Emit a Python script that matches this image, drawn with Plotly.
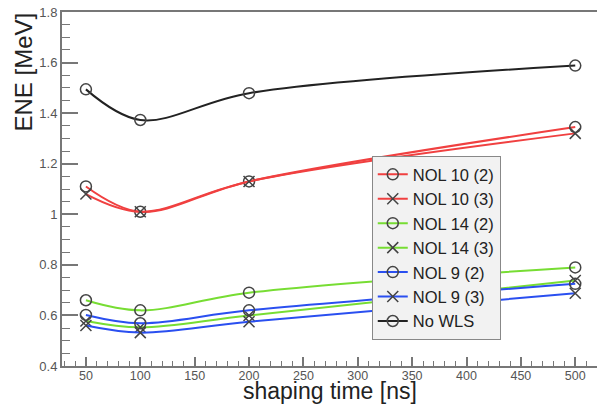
import plotly.graph_objects as go

shaping_time = [50, 100, 200, 500]

nol10_2 = [1.11, 1.01, 1.13, 1.345]
nol10_3 = [1.08, 1.01, 1.13, 1.32]
nol14_2 = [0.66, 0.62, 0.69, 0.79]
nol14_3 = [0.578, 0.553, 0.60, 0.738]
nol9_2 = [0.602, 0.569, 0.62, 0.725]
nol9_3 = [0.56, 0.532, 0.575, 0.688]
no_wls = [1.494, 1.373, 1.479, 1.588]

series_names = ["NOL 10 (2)", "NOL 10 (3)", "NOL 14 (2)", "NOL 14 (3)",
                "NOL 9 (2)", "NOL 9 (3)", "No WLS"]
series_values = [nol10_2, nol10_3, nol14_2, nol14_3, nol9_2, nol9_3, no_wls]
line_colors = ["#f04040", "#f04040", "#77dd33", "#77dd33",
               "#2a4ff0", "#2a4ff0", "#222222"]
symbols = ["circle-open", "x-thin-open", "circle-open", "x-thin-open",
           "circle-open", "x-thin-open", "circle-open"]

fig = go.Figure()
for name, vals, col, sym in zip(series_names, series_values, line_colors, symbols):
    fig.add_trace(go.Scatter(
        x=shaping_time, y=vals, name=name, mode="lines+markers",
        line=dict(color=col, width=2, shape="spline", smoothing=1.0),
        marker=dict(symbol=sym, size=11, color="#444444",
                    line=dict(color="#444444", width=1.5)),
    ))

axis_col = "#777777"
font_family = "Liberation Sans, Arial, sans-serif"

fig.update_layout(
    width=597, height=405,
    margin=dict(l=62, r=0, t=12, b=39),
    paper_bgcolor="white", plot_bgcolor="white",
    font=dict(family=font_family, color="#333333"),
    showlegend=True,
    legend=dict(
        x=0.579, y=0.593, xanchor="left", yanchor="top",
        bgcolor="#f2f2f2", bordercolor="#888888", borderwidth=1,
        font=dict(size=16.5, color="#222222", family=font_family),
        tracegroupgap=0, itemwidth=30,
    ),
    xaxis=dict(
        range=[28, 520],
        tickvals=[50, 100, 150, 200, 250, 300, 350, 400, 450, 500],
        ticks="inside", ticklen=9, tickwidth=1.5, tickcolor=axis_col,
        minor=dict(dtick=10, ticks="inside", ticklen=5, tickcolor=axis_col, tickwidth=1.2),
        showline=True, linecolor=axis_col, linewidth=2, mirror=True,
        showgrid=False, zeroline=False,
        tickfont=dict(size=12.5, color="#555555"),
    ),
    yaxis=dict(
        range=[0.4, 1.8],
        tickvals=[0.4, 0.6, 0.8, 1.0, 1.2, 1.4, 1.6, 1.8],
        ticktext=["0.4", "0.6", "0.8", "1", "1.2", "1.4", "1.6", "1.8"],
        ticks="inside", ticklen=16, tickwidth=1.5, tickcolor=axis_col,
        minor=dict(dtick=0.05, ticks="inside", ticklen=8, tickcolor=axis_col, tickwidth=1.2),
        showline=True, linecolor=axis_col, linewidth=2,
        showgrid=False, zeroline=False,
        tickfont=dict(size=13, color="#555555"),
    ),
    annotations=[
        dict(text="shaping time [ns]", xref="paper", yref="paper",
             x=(330 - 62) / 535, y=-(391 - 366) / 354,
             xanchor="center", yanchor="middle", showarrow=False,
             font=dict(size=23, color="#222222", family=font_family)),
        dict(text="ENE [MeV]", xref="paper", yref="paper",
             x=-(62 - 23) / 535, y=1.0 + 1 / 354,
             xanchor="center", yanchor="top", textangle=-90, showarrow=False,
             font=dict(size=24, color="#222222", family=font_family)),
    ],
)

try:
    fig.update_xaxes(ticklabelstandoff=-3)
except Exception:
    pass

fig.write_html("out.html")
